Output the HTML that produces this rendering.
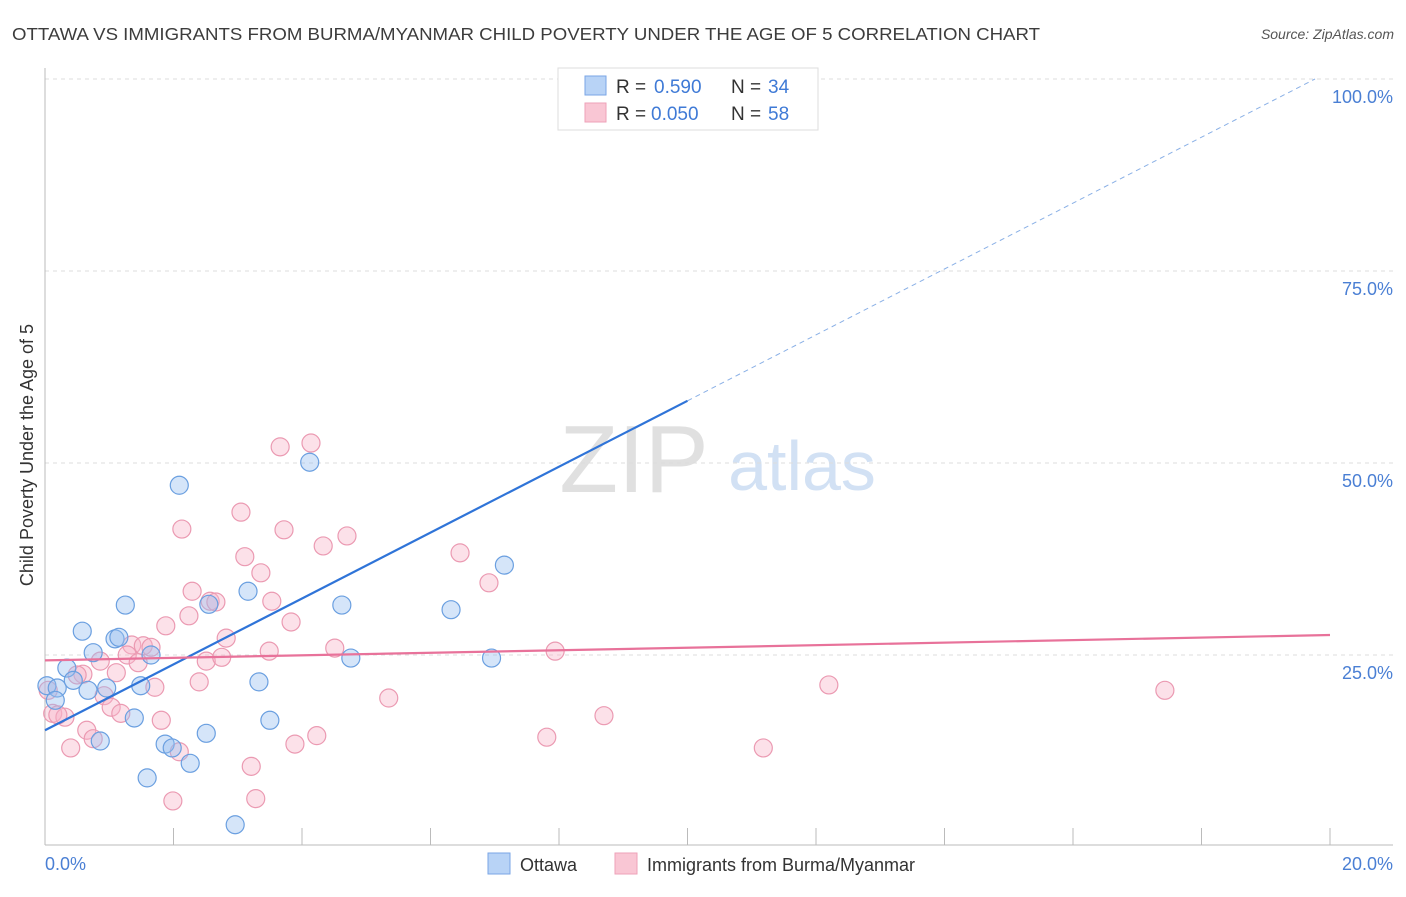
<!DOCTYPE html>
<html><head><meta charset="utf-8"><style>
body{margin:0;background:#fff;font-family:"Liberation Sans",sans-serif}
svg text{font-family:"Liberation Sans",sans-serif}
</style></head><body>
<svg id="c" width="1406" height="892" xmlns="http://www.w3.org/2000/svg">
<text x="12" y="40" font-size="17.5" fill="#3c3c3c" textLength="1028" lengthAdjust="spacingAndGlyphs">OTTAWA VS IMMIGRANTS FROM BURMA/MYANMAR CHILD POVERTY UNDER THE AGE OF 5 CORRELATION CHART</text>
<text x="1394" y="39" font-size="14" fill="#555" font-style="italic" text-anchor="end">Source: ZipAtlas.com</text>
<text x="634" y="492" font-size="96" fill="#e0e0e0" font-family="Liberation Serif" text-anchor="middle">ZIP</text>
<text x="802" y="490" font-size="70" fill="#d2e1f4" text-anchor="middle">atlas</text>
<g id="grid"></g><g id="axes"></g><g id="pts"></g><g id="trend"></g>
<text transform="translate(33,455) rotate(-90)" font-size="18" fill="#333" text-anchor="middle">Child Poverty Under the Age of 5</text>
<g>
<rect x="558" y="68" width="260" height="62" fill="#fff" stroke="#ddd"/>
<rect x="585" y="76" width="21" height="19" fill="#b8d3f6" stroke="#7aa6e6"/>
<text x="616" y="93" font-size="19" fill="#333">R = </text><text x="654" y="93" font-size="19" fill="#3f7ad6">0.590</text>
<text x="731" y="93" font-size="19" fill="#333">N = </text><text x="768" y="93" font-size="19" fill="#3f7ad6">34</text>
<rect x="585" y="103" width="21" height="19" fill="#f9c6d4" stroke="#eea2b8"/>
<text x="616" y="120" font-size="19" fill="#333">R = </text><text x="651" y="120" font-size="19" fill="#3f7ad6">0.050</text>
<text x="731" y="120" font-size="19" fill="#333">N = </text><text x="768" y="120" font-size="19" fill="#3f7ad6">58</text>
</g>
<g>
<rect x="488" y="853" width="22" height="21" fill="#b8d3f6" stroke="#7aa6e6"/>
<text x="520" y="871" font-size="18" fill="#333">Ottawa</text>
<rect x="615" y="853" width="22" height="21" fill="#f9c6d4" stroke="#eea2b8"/>
<text x="647" y="871" font-size="18" fill="#333">Immigrants from Burma/Myanmar</text>
</g>
</svg>
<script>
const yTicks=[25,50,75,100];
const yTickLabels=["25.0%","50.0%","75.0%","100.0%"];
const xTickCount=10;
const ottawaX=[0.03,0.19,0.16,0.34,0.44,0.58,0.67,0.75,0.86,0.96,1.09,1.15,1.25,1.39,1.49,1.59,1.65,1.87,1.98,2.09,2.26,2.51,2.55,2.96,3.16,3.33,3.50,4.12,4.62,4.76,6.32,6.95,7.15,9.35];
const ottawaY=[21.0,20.7,19.1,23.3,21.7,28.1,20.4,25.3,13.8,20.7,27.1,27.3,31.5,16.8,21.0,9.0,25.0,13.4,12.9,47.1,10.9,14.8,31.6,2.9,33.3,21.5,16.5,50.1,31.5,24.6,30.9,24.6,36.7,100.0];
const burmaX=[3.66,4.14,3.05,2.13,3.72,4.33,4.70,3.11,3.36,2.29,2.57,2.66,3.53,2.24,3.83,1.88,2.82,1.35,1.53,1.65,1.28,1.45,0.86,3.49,4.51,2.51,2.75,0.59,0.50,1.11,2.40,1.71,0.92,1.03,1.18,0.12,0.31,0.20,0.65,0.75,0.40,1.81,2.09,3.21,3.89,4.23,1.99,3.28,0.05,6.46,6.91,7.94,7.81,8.70,11.18,12.20,17.43,5.35];
const burmaY=[52.1,52.6,43.6,41.4,41.3,39.2,40.5,37.8,35.7,33.3,32.0,31.9,32.0,30.1,29.3,28.8,27.2,26.3,26.2,26.0,25.0,24.0,24.2,25.5,25.9,24.2,24.7,22.5,22.4,22.7,21.5,20.8,19.7,18.2,17.4,17.4,16.9,17.2,15.2,14.1,12.9,16.5,12.4,10.5,13.4,14.5,6.0,6.3,20.4,38.3,34.4,25.5,14.3,17.1,12.9,21.1,20.4,19.4];
const ottawaTrend=[15.2,58.1];  // y at x=0 and x=10
const burmaTrend=[24.3,27.6];   // y at x=0 and x=20
const NS="http://www.w3.org/2000/svg";
const X=v=>45+v*64.25, Y=v=>847-v*7.68;
function mk(t,a,p){const e=document.createElementNS(NS,t);for(const k in a)e.setAttribute(k,a[k]);document.getElementById(p).appendChild(e);return e;}
yTicks.forEach((t,i)=>{
 const g=mk('line',{x1:45,x2:1393,y1:Y(t),y2:Y(t),stroke:'#ddd','stroke-dasharray':'4,4'},'grid');
 
 
 const l=mk('text',{x:1393,y:Y(t)+24,'font-size':18,fill:'#4a7fd4','text-anchor':'end'},'grid');
 l.textContent=yTickLabels[i];
 
 
});
let ax=mk('line',{x1:45,x2:45,y1:68,y2:845,stroke:'#bbb'},'axes');


ax=mk('line',{x1:45,x2:1393,y1:845,y2:845,stroke:'#bbb'},'axes');


for(let k=1;k<=xTickCount;k++){const t=mk('line',{x1:X(k*2),x2:X(k*2),y1:828,y2:845,stroke:'#bbb'},'axes');
 
 }
[["0.0%",45,'start'],["20.0%",1393,'end']].forEach(d=>{const t=mk('text',{x:d[1],y:870,'font-size':18,fill:'#4a7fd4','text-anchor':d[2]},'axes');t.textContent=d[0];
 
 });
burmaX.forEach((v,i)=>{const c=mk('circle',{cx:X(v),cy:Y(burmaY[i]),r:9,fill:'rgba(248,180,200,0.4)',stroke:'#eb9ab2','stroke-width':1.2},'pts');
 
 });
ottawaX.forEach((v,i)=>{const c=mk('circle',{cx:X(v),cy:Y(ottawaY[i]),r:9,fill:'rgba(150,190,240,0.4)',stroke:'#6a9fe0','stroke-width':1.2},'pts');
 
 });
const sl=(ottawaTrend[1]-ottawaTrend[0])/10;
let tl=mk('line',{x1:X(0),y1:Y(ottawaTrend[0]),x2:X(10),y2:Y(ottawaTrend[1]),stroke:'#2f74d8','stroke-width':2.2},'trend');


const xe=(100-ottawaTrend[0])/sl;
tl=mk('line',{x1:X(10),y1:Y(ottawaTrend[1]),x2:X(xe),y2:Y(100),stroke:'#8ab0e6','stroke-width':1,'stroke-dasharray':'5,4'},'trend');


tl=mk('line',{x1:X(0),y1:Y(burmaTrend[0]),x2:X(20),y2:Y(burmaTrend[1]),stroke:'#e8729a','stroke-width':2.2},'trend');


</script>
</body></html>
